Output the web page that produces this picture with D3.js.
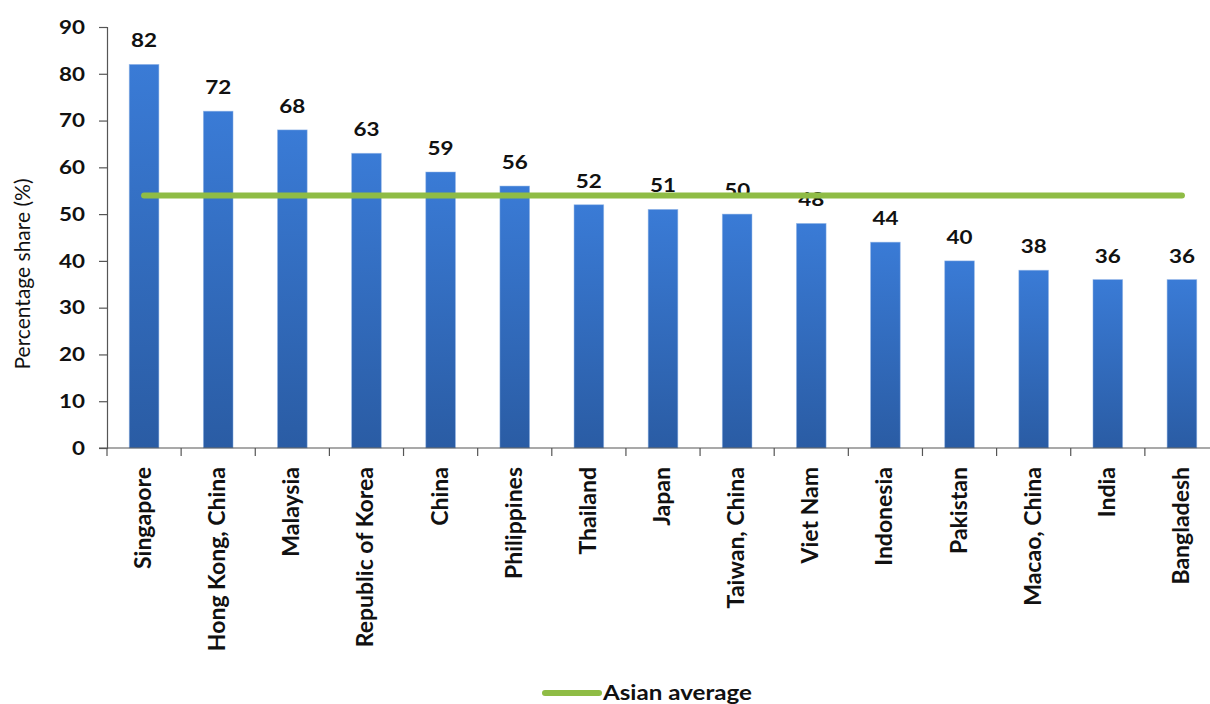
<!DOCTYPE html>
<html>
<head>
<meta charset="utf-8">
<script src="https://cdn.jsdelivr.net/npm/d3@7"></script>
<style>
  html, body { margin: 0; padding: 0; background: #fff; }
  svg { display: block; }
  text { font-family: Lato, "Open Sans", sans-serif; fill: #111; }
</style>
</head>
<body>
<svg id="chart" width="1210" height="704"></svg>
<script>
const countries = ["Singapore", "Hong Kong, China", "Malaysia", "Republic of Korea", "China",
  "Philippines", "Thailand", "Japan", "Taiwan, China", "Viet Nam", "Indonesia", "Pakistan",
  "Macao, China", "India", "Bangladesh"];
const shares = [82, 72, 68, 63, 59, 56, 52, 51, 50, 48, 44, 40, 38, 36, 36];
const asianAverage = 54;
const yTicks = [0, 10, 20, 30, 40, 50, 60, 70, 80, 90];
const yTitle = "Percentage share (%)";
const legendLabel = "Asian average";

const svg = d3.select("#chart");
const plot = { left: 107, right: 1219, top: 27, bottom: 448 };
const SX = 1.15;   // horizontal widening of the bold labels

const x = d3.scaleBand().domain(countries).range([plot.left, plot.right]).paddingInner(0.6).paddingOuter(0.3);
const y = d3.scaleLinear().domain([0, 90]).range([plot.bottom, plot.top]);
const xMid = d => x(d) + x.bandwidth() / 2;

// bar gradient: lighter at the top, deeper blue at the base
const defs = svg.append("defs");
const grad = defs.append("linearGradient").attr("id", "barGrad")
  .attr("x1", 0).attr("y1", 0).attr("x2", 0).attr("y2", 1);
grad.append("stop").attr("offset", "0%").attr("stop-color", "#3a7bd6");
grad.append("stop").attr("offset", "100%").attr("stop-color", "#2a5ca4");

// bars
svg.append("g").selectAll("rect").data(countries).join("rect")
  .attr("x", d => x(d))
  .attr("y", (d, i) => y(shares[i]))
  .attr("width", x.bandwidth())
  .attr("height", (d, i) => y(0) - y(shares[i]))
  .attr("fill", "url(#barGrad)")
  .attr("stroke", "#8fb4e6").attr("stroke-width", 0.8).attr("stroke-opacity", 0.6);

// value labels
svg.append("g").selectAll("text").data(countries).join("text")
  .attr("transform", (d, i) => `translate(${xMid(d)},${y(shares[i]) - 17}) scale(${SX},1)`)
  .attr("text-anchor", "middle")
  .attr("font-size", 19.5).attr("font-weight", 700)
  .text((d, i) => shares[i]);

// Asian average line across the categories
svg.append("line")
  .attr("x1", xMid(countries[0])).attr("x2", xMid(countries[countries.length - 1]))
  .attr("y1", y(asianAverage)).attr("y2", y(asianAverage))
  .attr("stroke", "#8fbc45").attr("stroke-width", 6).attr("stroke-linecap", "round");

// y axis
const yAxis = svg.append("g").attr("transform", `translate(${plot.left},0)`)
  .call(d3.axisLeft(y).tickValues(yTicks).tickSize(8).tickPadding(14));
yAxis.select(".domain").attr("stroke", "#555").attr("stroke-width", 1.2);
yAxis.selectAll(".tick line").attr("stroke", "#555").attr("stroke-width", 1.2);
yAxis.selectAll(".tick text")
  .attr("x", -22 / SX)
  .attr("transform", `scale(${SX},1)`)
  .attr("font-size", 19.5).attr("font-weight", 700)
  .attr("font-family", "Lato, sans-serif").attr("fill", "#111");

// x axis with ticks between categories
const xAxisG = svg.append("g").attr("transform", `translate(0,${plot.bottom})`);
xAxisG.append("line").attr("x1", plot.left - 8).attr("x2", plot.right)
  .attr("y1", 0).attr("y2", 0).attr("stroke", "#555").attr("stroke-width", 1.2);
const boundaries = d3.range(countries.length + 1).map(i => plot.left + i * (plot.right - plot.left) / countries.length);
xAxisG.selectAll("line.tk").data(boundaries).join("line").attr("class", "tk")
  .attr("x1", d => d).attr("x2", d => d).attr("y1", 0).attr("y2", 8)
  .attr("stroke", "#555").attr("stroke-width", 1.2);

// rotated category labels
svg.append("g").selectAll("text").data(countries).join("text")
  .attr("transform", d => `translate(${xMid(d) + 7},${plot.bottom + 19}) rotate(-90)`)
  .attr("text-anchor", "end")
  .attr("font-size", 23).attr("font-weight", 700)
  .text(d => d);

// y axis title
svg.append("text")
  .attr("transform", `translate(30,274) rotate(-90)`)
  .attr("text-anchor", "middle")
  .attr("font-size", 21)
  .text(yTitle);

// legend
const lg = svg.append("g").attr("transform", "translate(545,693)");
lg.append("line").attr("x1", 0).attr("x2", 54).attr("y1", 0).attr("y2", 0)
  .attr("stroke", "#8fbc45").attr("stroke-width", 6).attr("stroke-linecap", "round");
lg.append("text").attr("transform", `translate(58,7) scale(${SX},1)`)
  .attr("font-size", 21).attr("font-weight", 700).text(legendLabel);
</script>
</body>
</html>
